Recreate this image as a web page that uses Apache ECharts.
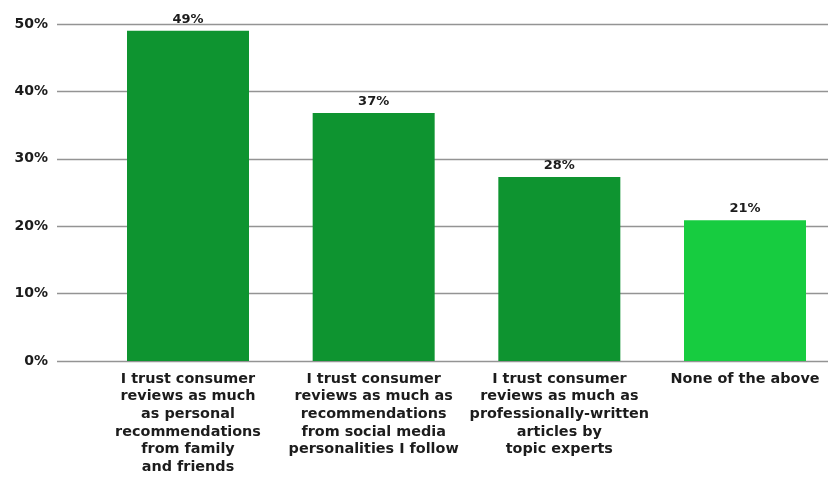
<!DOCTYPE html>
<html><head><meta charset="utf-8">
<script src="https://cdn.jsdelivr.net/npm/echarts@6/dist/echarts.min.js"></script>
<style>html,body{margin:0;padding:0;background:#fff}#c{width:828px;height:484px}</style>
</head><body><div id="c"></div>
<script>
const categories = [
  "I trust consumer\nreviews as much\nas personal\nrecommendations\nfrom family\nand friends",
  "I trust consumer\nreviews as much as\nrecommendations\nfrom social media\npersonalities I follow",
  "I trust consumer\nreviews as much as\nprofessionally-written\narticles by\ntopic experts",
  "None of the above"
];
const values = [49, 36.8, 27.3, 20.9];
const valueLabels = ["49%", "37%", "28%", "21%"];
const barColors = ["#0e9430", "#0e9430", "#0e9430", "#17cc40"];
const yTicks = [0, 10, 20, 30, 40, 50];

const FONT = "DejaVu Sans";
const TXT = '#1c1c1c';
const chart = echarts.init(document.getElementById('c'));
chart.setOption({
  animation: false,
  grid: [
    {left: 57, right: 0, top: 24, bottom: 123},
    {left: 188, right: 83, top: 24, bottom: 123}
  ],
  xAxis: [
    {gridIndex: 0, type: 'category', data: [''], show: false},
    {gridIndex: 1, type: 'category', data: categories, boundaryGap: false,
     axisLine: {show: false}, axisTick: {show: false}, splitLine: {show: false},
     axisLabel: {interval: 0, margin: 9, color: TXT, fontFamily: FONT, fontWeight: 'bold', fontSize: 14.4, lineHeight: 17.7}}
  ],
  yAxis: [
    {gridIndex: 0, type: 'value', min: yTicks[0], max: yTicks[yTicks.length-1], interval: 10,
     axisLine: {show: false}, axisTick: {show: false},
     axisLabel: {formatter: '{value}%', margin: 9, color: TXT, fontFamily: FONT, fontWeight: 'bold', fontSize: 14},
     splitLine: {lineStyle: {color: '#949494', width: 1.3}}},
    {gridIndex: 1, type: 'value', min: 0, max: 50, show: false, splitLine: {show: false}}
  ],
  series: [{
    type: 'bar', xAxisIndex: 1, yAxisIndex: 1, clip: false,
    data: values.map((v, i) => ({value: v, itemStyle: {color: barColors[i]}})),
    barWidth: 122,
    label: {show: true, position: 'top', distance: 5,
            formatter: p => valueLabels[p.dataIndex],
            color: TXT, fontFamily: FONT, fontWeight: 'bold', fontSize: 13}
  }]
});
</script></body></html>
